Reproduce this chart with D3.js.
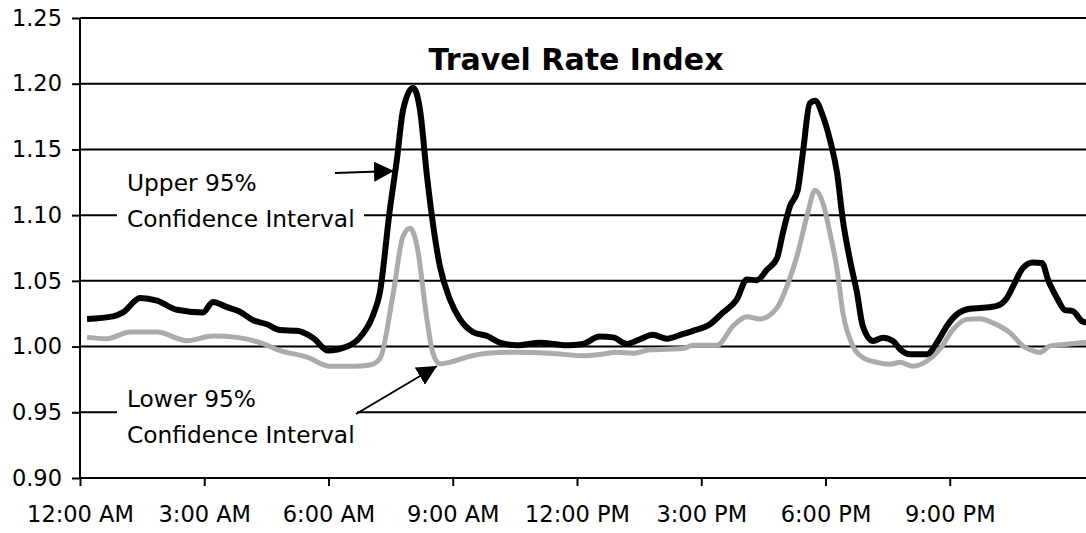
<!DOCTYPE html>
<html>
<head>
<meta charset="utf-8">
<script src="https://cdn.jsdelivr.net/npm/d3@7"></script>
<style>
  html, body { margin: 0; padding: 0; background: #fff; }
  svg { display: block; }
</style>
</head>
<body>
<svg id="chart" width="1086" height="533"></svg>
<script>
// ---- Data (hours since midnight, index value) ----
const title = "Travel Rate Index";
const yTicks = [0.90, 0.95, 1.00, 1.05, 1.10, 1.15, 1.20, 1.25];
const xTickHours = [0, 3, 6, 9, 12, 15, 18, 21];
const xTickLabels = ["12:00 AM", "3:00 AM", "6:00 AM", "9:00 AM", "12:00 PM", "3:00 PM", "6:00 PM", "9:00 PM"];

const upperHours = [0.17,0.80,1.04,1.45,1.86,2.34,2.97,3.21,3.55,3.86,4.18,4.51,4.83,5.24,5.63,5.99,6.45,6.76,7.07,7.24,7.48,7.65,7.80,8.04,8.21,8.38,8.69,8.93,9.17,9.49,9.83,10.14,10.55,11.11,11.76,12.14,12.55,12.87,13.21,13.52,13.83,14.17,14.56,14.80,15.21,15.52,15.86,16.10,16.34,16.59,16.83,16.97,17.14,17.33,17.46,17.62,17.75,17.94,18.11,18.28,18.42,18.59,18.76,18.90,19.15,19.39,19.63,19.80,20.04,20.45,20.69,20.93,21.17,21.49,21.80,22.14,22.38,22.57,22.77,23.01,23.23,23.37,23.59,23.78,23.97,24.19,24.34];
const upperValues = [1.021,1.023,1.026,1.037,1.035,1.028,1.026,1.034,1.030,1.0265,1.020,1.017,1.0126,1.012,1.0066,0.997,1.000,1.007,1.0235,1.041,1.104,1.142,1.180,1.197,1.180,1.129,1.061,1.036,1.021,1.011,1.008,1.003,1.001,1.003,1.001,1.002,1.0076,1.007,1.002,1.0056,1.009,1.006,1.0096,1.012,1.017,1.0258,1.036,1.051,1.0505,1.0586,1.0674,1.0864,1.1066,1.119,1.149,1.185,1.187,1.175,1.157,1.132,1.096,1.066,1.041,1.0157,1.0043,1.0068,1.0043,0.998,0.9942,0.9942,1.003,1.0157,1.0245,1.0288,1.0295,1.031,1.037,1.0485,1.060,1.064,1.0636,1.051,1.037,1.0278,1.027,1.0194,1.018];

const lowerHours = [0.17,0.65,1.21,1.86,2.58,3.21,3.79,4.35,4.83,5.48,6.04,6.59,7.00,7.24,7.56,7.80,7.97,8.14,8.38,8.52,8.69,8.93,9.34,9.83,10.55,11.35,12.14,12.55,12.96,13.35,13.76,14.17,14.56,14.80,15.38,15.77,16.10,16.42,16.83,17.07,17.31,17.55,17.75,17.94,18.11,18.28,18.42,18.66,18.90,19.24,19.56,19.80,20.11,20.45,20.76,21.08,21.41,21.73,22.04,22.45,22.77,23.01,23.18,23.42,23.83,24.34];
const lowerValues = [1.007,1.006,1.011,1.011,1.0045,1.008,1.007,1.003,0.997,0.992,0.985,0.985,0.986,0.9907,1.040,1.084,1.090,1.076,1.020,0.995,0.987,0.988,0.992,0.995,0.9957,0.995,0.993,0.994,0.9957,0.995,0.9975,0.998,0.9985,1.001,1.001,1.0157,1.0227,1.021,1.0295,1.046,1.0687,1.099,1.119,1.109,1.086,1.0586,1.0258,1.0005,0.9917,0.988,0.9866,0.988,0.985,0.989,0.998,1.013,1.0207,1.0212,1.018,1.0106,1.0005,0.9967,0.9955,1.0005,1.0018,1.0035];

const upperLabel = ["Upper 95%", "Confidence Interval"];
const lowerLabel = ["Lower 95%", "Confidence Interval"];

// ---- Layout ----
const svg = d3.select("#chart");
const W = 1086;
const x = d3.scaleLinear().domain([0, 24]).range([80, 1074]);
const y = d3.scaleLinear().domain([0.90, 1.25]).range([478, 18]);
const font = "'DejaVu Sans', Verdana, sans-serif";

// gridlines
svg.append("g").selectAll("line").data(yTicks.filter(v => v > 0.9)).join("line")
  .attr("x1", x(0)).attr("x2", W)
  .attr("y1", d => y(d)).attr("y2", d => y(d))
  .attr("stroke", "#000").attr("stroke-width", 2);

// y axis
const yAxis = svg.append("g").attr("transform", `translate(${x(0)},0)`)
  .call(d3.axisLeft(y).tickValues(yTicks).tickSize(8).tickPadding(10).tickFormat(d3.format(".2f")));
yAxis.select(".domain").attr("stroke", "#000").attr("stroke-width", 2).attr("d", `M0,${y(1.25)}V${y(0.9)}`);
yAxis.selectAll(".tick line").attr("stroke-width", 2);
yAxis.selectAll("text").attr("font-family", font).attr("font-size", 22.5).attr("fill", "#000");

// x axis
const xAxis = svg.append("g").attr("transform", `translate(0,${y(0.9)})`)
  .call(d3.axisBottom(x).tickValues(xTickHours).tickSize(8).tickPadding(20)
    .tickFormat((d, i) => xTickLabels[i]));
xAxis.select(".domain").attr("stroke-width", 2).attr("d", `M${x(0)},0H${W}`);
xAxis.selectAll(".tick line").attr("stroke-width", 2);
xAxis.selectAll("text").attr("font-family", font).attr("font-size", 22.5).attr("fill", "#000");

// lines
const line = d3.line().x(d => x(d[0])).y(d => y(d[1])).curve(d3.curveMonotoneX);
const lowerData = lowerHours.map((h, i) => [h, lowerValues[i]]);
const upperData = upperHours.map((h, i) => [h, upperValues[i]]);
svg.append("path").datum(lowerData).attr("d", line)
  .attr("fill", "none").attr("stroke", "#ababab").attr("stroke-width", 5).attr("stroke-linejoin", "round");
svg.append("path").datum(upperData).attr("d", line)
  .attr("fill", "none").attr("stroke", "#000").attr("stroke-width", 6).attr("stroke-linejoin", "round");

// title
svg.append("text").attr("x", 576).attr("y", 70).attr("text-anchor", "middle")
  .attr("font-family", font).attr("font-weight", "bold").attr("font-size", 30).text(title);

// annotation boxes
function annot(lines, bx, by, bw, bh, tx, ty) {
  svg.append("rect").attr("x", bx).attr("y", by).attr("width", bw).attr("height", bh).attr("fill", "#fff");
  svg.append("text").attr("font-family", font).attr("font-size", 23.3).attr("fill", "#000")
    .selectAll("tspan").data(lines).join("tspan")
    .attr("x", tx).attr("y", (d, i) => ty + i * 36).text(d => d);
}
annot(upperLabel, 117, 160, 247, 75, 127, 191);
annot(lowerLabel, 117, 372, 240, 80, 127, 407);

// arrows
const defs = svg.append("defs");
defs.append("marker").attr("id", "ah").attr("viewBox", "0 0 10 10")
  .attr("refX", 10).attr("refY", 5).attr("markerWidth", 20).attr("markerHeight", 20)
  .attr("markerUnits", "userSpaceOnUse").attr("orient", "auto")
  .append("path").attr("d", "M0,0L10,5L0,10Z").attr("fill", "#000");
svg.append("line").attr("x1", 335).attr("y1", 173).attr("x2", 394).attr("y2", 171)
  .attr("stroke", "#000").attr("stroke-width", 2).attr("marker-end", "url(#ah)");
svg.append("line").attr("x1", 356).attr("y1", 414).attr("x2", 437).attr("y2", 366)
  .attr("stroke", "#000").attr("stroke-width", 2).attr("marker-end", "url(#ah)");
</script>
</body>
</html>
